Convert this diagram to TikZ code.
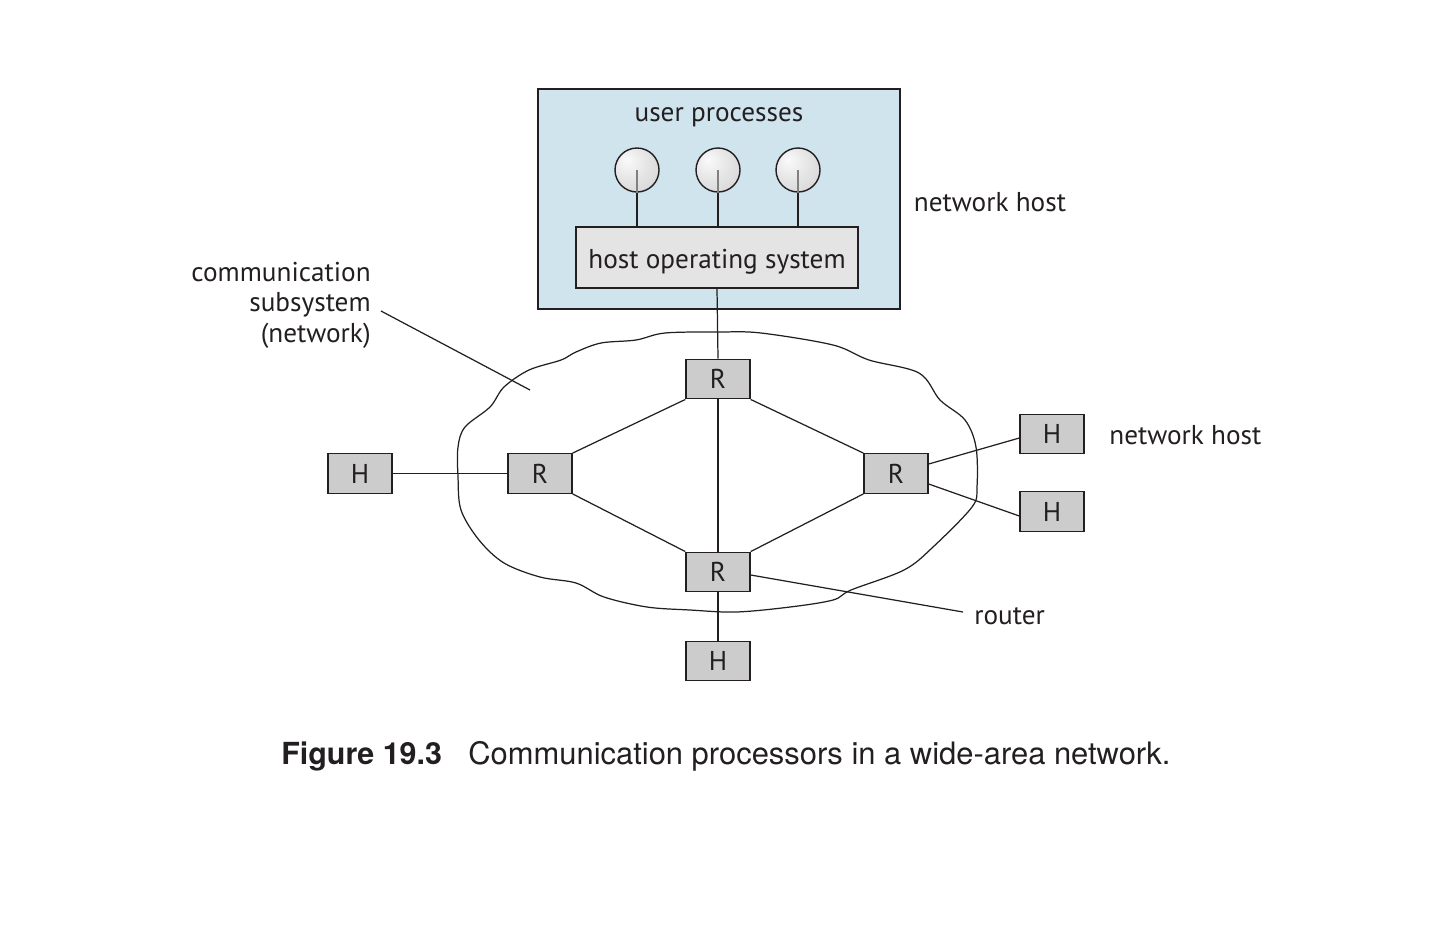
\documentclass[tikz,border=0pt]{standalone}
\usepackage{fontspec}
\setmainfont{PT Sans}
\newfontfamily\capfont{TeX Gyre Heros}
\usetikzlibrary{calc}
\definecolor{hostblue}{RGB}{207,228,237}
\definecolor{osgray}{RGB}{228,228,228}
\definecolor{boxgray}{RGB}{204,204,204}
\definecolor{ink}{RGB}{35,31,32}
\pgfdeclareradialshading{procshade}{\pgfpoint{-12bp}{12bp}}{color(0bp)=(gray!4); color(22bp)=(gray!22); color(62bp)=(gray!50)}
\begin{document}
\begin{tikzpicture}[x=0.02cm,y=-0.02cm,
  every node/.style={font=\fontsize{15.5}{17.3}\selectfont, text=ink},
  rbox/.style={draw=ink, line width=0.8pt, fill=boxgray, minimum width=1.28cm, minimum height=0.79cm, inner sep=0pt},
  conn/.style={draw=ink, line width=0.7pt},
  proc/.style={circle, draw=ink, line width=0.8pt, minimum size=0.88cm, inner sep=0pt, shading=procshade},
  lbl/.style={inner sep=0pt}
]
\useasboundingbox (0,0) rectangle (1452,944);

% network host box
\node[draw=ink, line width=0.8pt, fill=hostblue, minimum width=7.24cm, minimum height=4.4cm, inner sep=0pt] (host) at (719,199) {};
\node[lbl] (up) at (719,117) {user processes};
\node[draw=ink, line width=0.8pt, fill=osgray, minimum width=5.64cm, minimum height=1.22cm, inner sep=0pt] (os) at (717,257.5) {};
\node[lbl] (ostext) at (717,261.5) {host operating system};
\node[proc] (p1) at (637,170) {};
\node[proc] (p2) at (718,170) {};
\node[proc] (p3) at (798,170) {};
\foreach \p in {p1,p2,p3}{
  \draw[conn] (\p.south) -- (\p.south |- os.north);
  \draw[gray, line width=0.6pt] (\p.center) -- (\p.south);
}
\node[lbl] (nh1) at (990,202) {network host};

% cloud
\draw[conn] plot[smooth cycle, tension=0.55] coordinates {
 (665,333) (719,332) (761,333) (833,345) (869,360) (919,373) (940,400) (965,420)
 (976,447) (977,487) (972,507) (933,547) (904,570) (851,590) (833,600) (790,607)
 (736,612) (690,610) (647,607) (604,597) (576,583) (540,577) (504,563) (479,540)
 (461,510) (458,477) (458,447) (465,427) (490,407) (504,387) (529,370) (561,360)
 (576,352) (601,343) (636,340)};

% routers and hosts
\node[rbox] (Rt) at (718,379) {R};
\node[rbox] (Rl) at (540,473.5) {R};
\node[rbox] (Rr) at (896,473.5) {R};
\node[rbox] (Rb) at (718,572) {R};
\node[rbox] (Hl) at (360,473.5) {H};
\node[rbox] (Hb) at (718,661) {H};
\node[rbox] (Hr1) at (1052,434) {H};
\node[rbox] (Hr2) at (1052,511.5) {H};

\draw[conn] (os.south) -- (Rt.north);
\draw[conn] (Rt.south) -- (Rb.north);
\draw[conn] (Rl.north east) -- (Rt.south west);
\draw[conn] (Rt.south east) -- (Rr.north west);
\draw[conn] (Rl.south east) -- (Rb.north west);
\draw[conn] (Rb.north east) -- (Rr.south west);
\draw[conn] (Hl.east) -- (Rl.west);
\draw[conn] (Rb.south) -- (Hb.north);
\draw[conn] ($(Rr.east)+(0,-9.5)$) -- ($(Hr1.west)+(0,4)$);
\draw[conn] ($(Rr.east)+(0,10.5)$) -- ($(Hr2.west)+(0,4.5)$);

\node[lbl, anchor=west] (nh2) at (1109,435) {network host};

% router label
\coordinate (rtend) at (963,612);
\draw[conn] ($(Rb.east)+(0,3)$) -- (rtend);
\node[lbl, anchor=west] (rlab) at (974,616) {router};

% communication subsystem label
\node[lbl, anchor=east, align=right] (cs) at (371,305) {communication\\subsystem\\(network)};
\coordinate (cs1) at (381,311);
\coordinate (cs2) at (530,390);
\draw[conn] (cs1) -- (cs2);

% caption
\node[lbl, anchor=base west, font=\capfont\bfseries\fontsize{17.3}{21}\selectfont] (figno) at (281,764) {Figure 19.3};
\node[lbl, anchor=base west, font=\capfont\fontsize{17.6}{21}\selectfont] (figcap) at (468,764) {Communication processors in a wide-area network.};
\end{tikzpicture}
\end{document}
